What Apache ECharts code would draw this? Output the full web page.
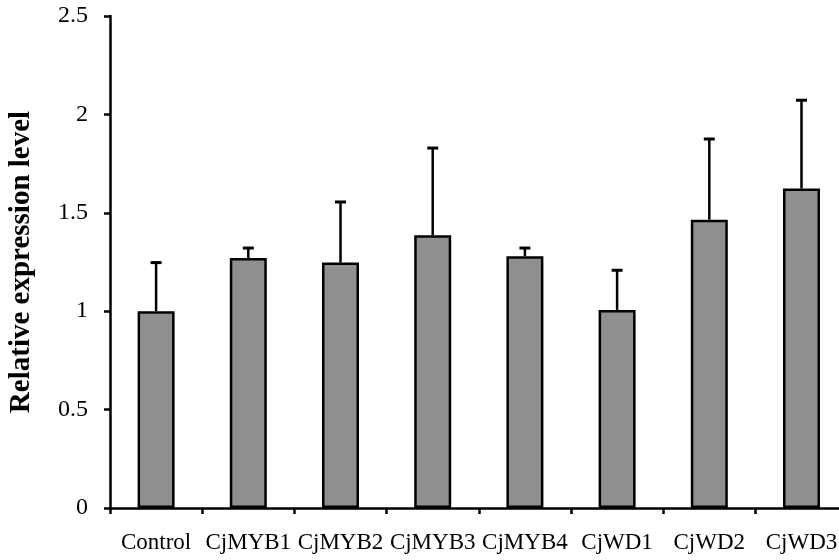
<!DOCTYPE html>
<html>
<head>
<meta charset="utf-8">
<script src="https://cdn.jsdelivr.net/npm/echarts@6/dist/echarts.min.js"></script>
<style>html,body{margin:0;padding:0;background:#fff}#c{width:839px;height:560px}</style>
</head>
<body>
<div id="c"></div>
<script>
const categories = ['Control', 'CjMYB1', 'CjMYB2', 'CjMYB3', 'CjMYB4', 'CjWD1', 'CjWD2', 'CjWD3'];
const means = [1.00, 1.27, 1.247, 1.386, 1.279, 1.006, 1.465, 1.623];
const errorTops = [1.247, 1.321, 1.555, 1.829, 1.321, 1.208, 1.875, 2.072];
const yTicks = [0, 0.5, 1, 1.5, 2, 2.5];

const chart = echarts.init(document.getElementById('c'));
const font = 'Liberation Serif';
chart.setOption({
  animation: false,
  backgroundColor: '#ffffff',
  grid: { left: 110, top: 16, bottom: 52, width: 737.6, containLabel: false, outerBoundsMode: 'none' },
  xAxis: {
    type: 'category',
    data: categories,
    axisLine: { lineStyle: { color: '#000', width: 2.5 } },
    axisTick: { show: true, length: 6, lineStyle: { color: '#000', width: 2.5 } },
    axisLabel: { color: '#000', fontFamily: font, fontSize: 23, margin: 23, interval: 0 }
  },
  yAxis: {
    type: 'value',
    min: yTicks[0],
    max: yTicks[yTicks.length - 1],
    interval: 0.5,
    name: 'Relative expression level',
    nameLocation: 'middle',
    nameGap: 74,
    nameTextStyle: { color: '#000', fontFamily: font, fontSize: 29, fontWeight: 'bold' },
    axisLine: { show: true, lineStyle: { color: '#000', width: 2.5 } },
    axisTick: { show: true, length: 6, lineStyle: { color: '#000', width: 2.5 } },
    splitLine: { show: false },
    axisLabel: { color: '#000', fontFamily: font, fontSize: 24, margin: 22 }
  },
  series: [
    {
      type: 'bar',
      data: means,
      barWidth: 37,
      itemStyle: { color: '#8f8f8f', borderColor: '#000', borderWidth: 2.5 },
      z: 2
    },
    {
      type: 'custom',
      data: categories.map((c, i) => [i, means[i], errorTops[i]]),
      renderItem: function (params, api) {
        const base = api.coord([api.value(0), api.value(1)]);
        const top = api.coord([api.value(0), api.value(2)]);
        const half = 5.5;
        return {
          type: 'group',
          children: [
            { type: 'line', shape: { x1: base[0], y1: base[1], x2: top[0], y2: top[1] }, style: { stroke: '#000', lineWidth: 2.5 } },
            { type: 'line', shape: { x1: top[0] - half, y1: top[1], x2: top[0] + half, y2: top[1] }, style: { stroke: '#000', lineWidth: 3 } }
          ]
        };
      },
      z: 3
    }
  ]
});
</script>
</body>
</html>
